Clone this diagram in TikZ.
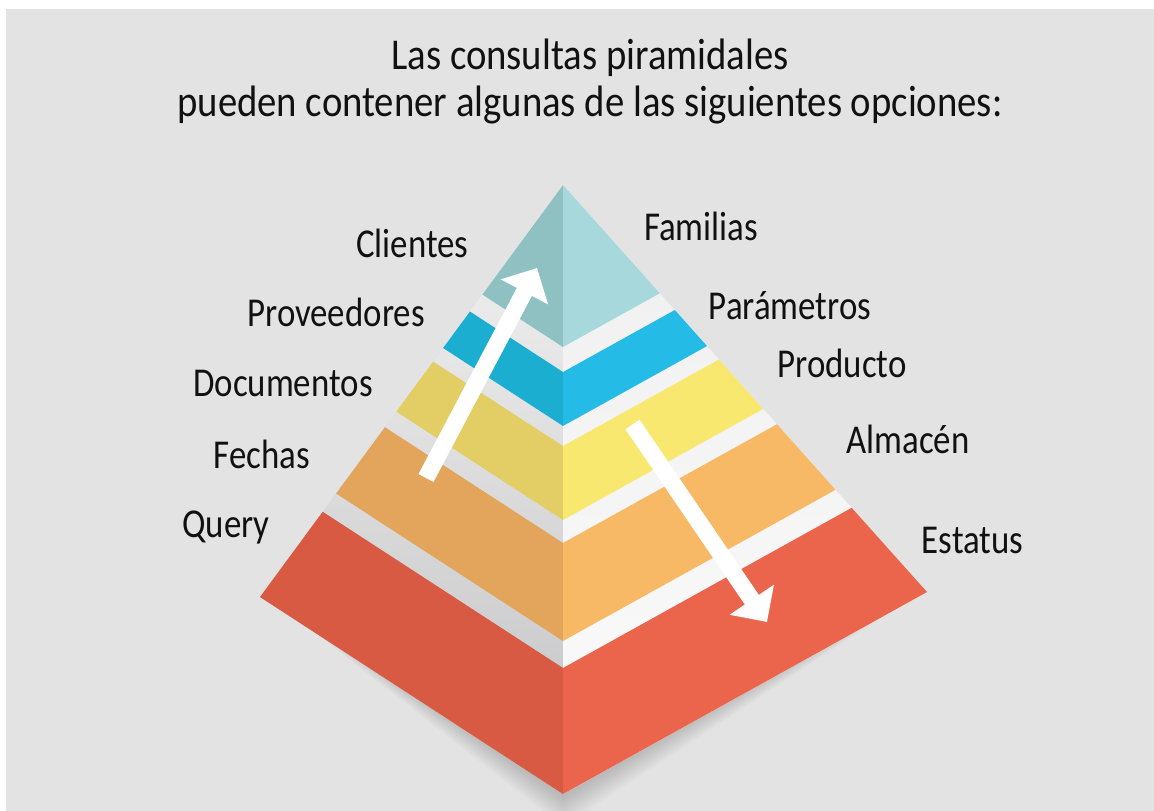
\documentclass[tikz,border=0pt]{standalone}
\usepackage{fontspec}
\setmainfont{Carlito}[FakeStretch=0.85]
\newfontfamily\ttlfont{Carlito}[FakeStretch=0.88]
\usetikzlibrary{calc,arrows.meta}
\definecolor{bg}{HTML}{E3E3E3}
\definecolor{txt}{HTML}{111111}
\definecolor{tealL}{HTML}{8FC1C3}
\definecolor{tealR}{HTML}{A6D8DC}
\definecolor{blueL}{HTML}{1CAED0}
\definecolor{blueR}{HTML}{24BCE6}
\definecolor{yelL}{HTML}{E3CE66}
\definecolor{yelR}{HTML}{F9E86F}
\definecolor{oraL}{HTML}{E3A55B}
\definecolor{oraR}{HTML}{F7B966}
\definecolor{redL}{HTML}{D95A43}
\definecolor{redR}{HTML}{EA654C}
\definecolor{gapLtop}{HTML}{F4F4F4}
\definecolor{gapLbot}{HTML}{C2C2C4}
\definecolor{gapRtop}{HTML}{EFEFEF}
\definecolor{gapRbot}{HTML}{FBFBFB}
\begin{document}
\begin{tikzpicture}[x=1pt,y=-1pt,
  lbl/.style={font=\fontsize{41}{41}\selectfont, inner sep=0pt, text=txt, anchor=base},
  ttl/.style={font=\ttlfont\fontsize{44}{44}\selectfont, inner sep=0pt, text=txt, anchor=base},
  warrow/.style={draw=white, line width=17pt, -{Triangle[width=52pt,length=27pt]}}]
\useasboundingbox (0,0) rectangle (1154,811);
\fill[white] (0,0) rectangle (1154,811);
\fill[bg] (6,9) rectangle (1154,811);

% pyramid corners
\coordinate (A) at (563,185);
\coordinate (L) at (260,597);
\coordinate (B) at (563,794);
\coordinate (R) at (927,592);

% soft shadow
\foreach \d in {3,6,...,33}
  \fill[black, opacity=0.016] ($(L)+(20,\d/4)$) -- ($(B)+(0,\d)$) -- ($(R)+(-20,\d/4)$) -- cycle;

% faces (gap colour)
\shade[top color=gapLtop, bottom color=gapLbot] (A) -- (L) -- (B) -- cycle;
\shade[top color=gapRtop, bottom color=gapRbot] (A) -- (B) -- (R) -- cycle;

% layers: s1, s2, left colour, right colour
\foreach \sa/\sb/\cl/\cr in {0/0.2660/tealL/tealR, 0.3071/0.3957/blueL/blueR,
    0.4286/0.5501/yelL/yelR, 0.5878/0.7488/oraL/oraR, 0.7931/1/redL/redR} {
  \fill[\cl] ($(A)!\sa!(L)$) -- ($(A)!\sb!(L)$) -- ($(A)!\sb!(B)$) -- ($(A)!\sa!(B)$) -- cycle;
  \fill[\cr] ($(A)!\sa!(B)$) -- ($(A)!\sb!(B)$) -- ($(A)!\sb!(R)$) -- ($(A)!\sa!(R)$) -- cycle;
}

% arrows
\coordinate (upTail) at (426,478);
\coordinate (upTip) at (537,268);
\coordinate (dnTail) at (632.5,424.5);
\coordinate (dnTip) at (767,622);
\draw[warrow] (upTail) -- (upTip);
\draw[warrow] (dnTail) -- (dnTip);

% title
\node[ttl] (t1) at (590,69) {Las consultas piramidales};
\node[ttl] (t2) at (590,116) {pueden contener algunas de las siguientes opciones:};

% left labels
\node[lbl] (clientes) at (412.5,257) {Clientes};
\node[lbl] (proveedores) at (336,326) {Proveedores};
\node[lbl] (documentos) at (283,396) {Documentos};
\node[lbl] (fechas) at (262,468) {Fechas};
\node[lbl] (query) at (226,537) {Query};
% right labels
\node[lbl] (familias) at (701,240) {Familias};
\node[lbl] (parametros) at (790,319) {Parámetros};
\node[lbl] (producto) at (842,377) {Producto};
\node[lbl] (almacen) at (908,453) {Almacén};
\node[lbl] (estatus) at (972.5,553) {Estatus};
\end{tikzpicture}
\end{document}
